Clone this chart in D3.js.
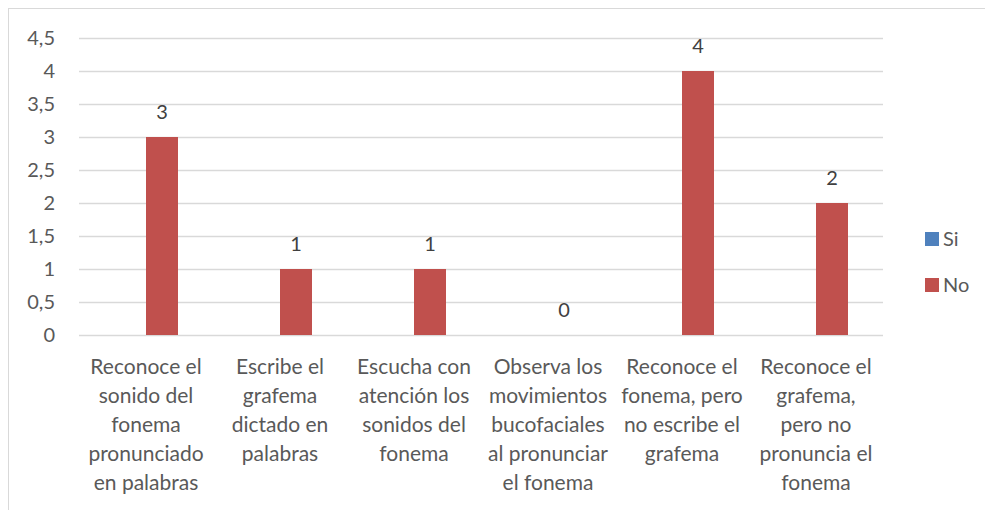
<!DOCTYPE html>
<html><head><meta charset="utf-8">
<script src="https://cdn.jsdelivr.net/npm/d3@7"></script>
<style>body{margin:0;background:#fff;} text{font-family:Lato,"Open Sans",sans-serif;}</style>
</head><body>
<svg id="c" width="985" height="510"></svg>
<script>
const categories = [
  "Reconoce el\nsonido del\nfonema\npronunciado\nen palabras",
  "Escribe el\ngrafema\ndictado en\npalabras",
  "Escucha con\natención los\nsonidos del\nfonema",
  "Observa los\nmovimientos\nbucofaciales\nal pronunciar\nel fonema",
  "Reconoce el\nfonema, pero\nno escribe el\ngrafema",
  "Reconoce el\ngrafema,\npero no\npronuncia el\nfonema"
];
const seriesNames = ["Si", "No"];
const siValues = [0, 0, 0, 0, 0, 0];
const noValues = [3, 1, 1, 0, 4, 2];
const yTicks = [0, 0.5, 1, 1.5, 2, 2.5, 3, 3.5, 4, 4.5];
const colors = ["#4f81bd", "#c0504d"];

(function(){
const svg = d3.select("#c");
svg.append("rect").attr("x", 8.5).attr("y", 8.5).attr("width", 1000).attr("height", 600)
  .attr("fill", "none").attr("stroke", "#d9d9d9");

const pl = 79, pr = 883, pt = 38, pb = 335;
const x = d3.scaleBand().domain(d3.range(categories.length)).range([pl, pr]);
const y = d3.scaleLinear().domain([0, 4.5]).range([pb, pt]);
const inner = d3.scaleBand().domain([0, 1]).range([0, 64]);
const fmt = v => String(v).replace(".", ",");

const yAxis = d3.axisLeft(y).tickValues(yTicks).tickSize(-(pr - pl)).tickFormat(fmt).tickPadding(24);
const ga = svg.append("g").attr("transform", `translate(${pl},0)`).call(yAxis);
ga.select(".domain").remove();
ga.selectAll(".tick line").attr("stroke", "#d9d9d9").attr("stroke-width", 1.3);
ga.selectAll(".tick text").attr("fill", "#595959").style("font-size", "20px");

const series = [siValues, noValues];
series.forEach((vals, si) => {
  svg.append("g").selectAll("rect").data(vals).join("rect")
    .attr("x", (d, i) => x(i) + x.bandwidth() / 2 - 32 + inner(si))
    .attr("width", inner.bandwidth())
    .attr("y", d => y(d))
    .attr("height", d => y(0) - y(d))
    .attr("fill", colors[si]);
});

svg.append("g").selectAll("text").data(noValues).join("text")
  .attr("x", (d, i) => x(i) + x.bandwidth() / 2 + 16)
  .attr("y", d => y(d) - 18)
  .attr("text-anchor", "middle").attr("fill", "#404040").style("font-size", "20px")
  .text(d => d);

const lab = svg.append("g").selectAll("text").data(categories).join("text")
  .attr("text-anchor", "middle").attr("fill", "#595959").style("font-size", "21px");
lab.each(function(d, i) {
  const t = d3.select(this);
  d.split("\n").forEach((ln, k) => {
    t.append("tspan").attr("x", x(i) + x.bandwidth() / 2).attr("y", 374 + k * 29).text(ln);
  });
});

const lg = svg.append("g").selectAll("g").data(seriesNames).join("g")
  .attr("transform", (d, i) => `translate(925,${232 + i * 46})`);
lg.append("rect").attr("width", 14).attr("height", 14).attr("fill", (d, i) => colors[i]);
lg.append("text").attr("x", 18).attr("y", 14).attr("fill", "#595959").style("font-size", "20px").text(d => d);
})();
</script>
</body></html>
